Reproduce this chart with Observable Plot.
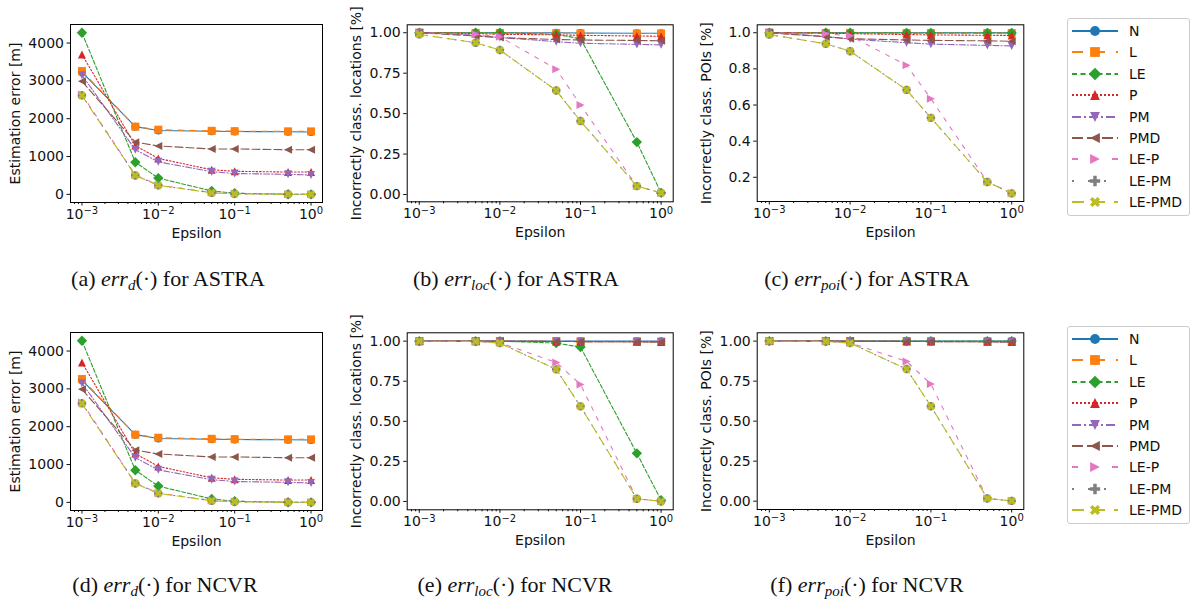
<!DOCTYPE html>
<html>
<head>
<meta charset="utf-8">
<script src="https://cdn.jsdelivr.net/npm/d3@7"></script>
<script src="https://cdn.jsdelivr.net/npm/@observablehq/plot@0.6"></script>
<style>
  html, body { margin: 0; padding: 0; background: white; }
  #root { position: relative; width: 1192px; height: 601px; overflow: hidden; background: white; }
  .pane { position: absolute; }
  .cap { position: absolute; width: 400px; text-align: center; font-family: "Liberation Serif", "DejaVu Serif", serif; font-size: 22px; line-height: 22px; color: #111; white-space: nowrap; }
  .cap sub { font-size: 15px; vertical-align: -4px; line-height: 0; }
  .legend { position: absolute; width: 121px; height: 196px; border: 1px solid #cccccc; border-radius: 3px; background: white; font-family: "DejaVu Sans", sans-serif; font-size: 14px; color: #111; }
  .legend .row { position: absolute; left: 0; width: 121px; height: 20px; }
  .legend .row svg { position: absolute; left: 4px; top: 0; }
  .legend .row span { position: absolute; left: 61px; top: 1px; line-height: 18px; white-space: nowrap; }
</style>
</head>
<body>
<div id="root"></div>
<script>
// ---------------- data ----------------
const series = ["N", "L", "LE", "P", "PM", "PMD", "LE-P", "LE-PM", "LE-PMD"];
const epsilon = [0.001, 0.005, 0.01, 0.05, 0.1, 0.5, 1];

// (a) err_d for ASTRA  [m]  (rows follow `series`)
const errD_ASTRA = [
  [3230, 1790, 1690, 1670, 1660, 1655, 1650],
  [3260, 1790, 1710, 1680, 1670, 1665, 1665],
  [4270, 850, 430, 90, 30, 5, 0],
  [3700, 1290, 950, 650, 610, 590, 590],
  [3150, 1180, 860, 600, 550, 530, 510],
  [2990, 1380, 1280, 1200, 1200, 1180, 1180],
  [2640, 510, 250, 50, 20, 5, 0],
  [2620, 500, 240, 40, 15, 3, 0],
  [2610, 500, 240, 40, 15, 3, 0]
];
// (b) err_loc for ASTRA
const errLoc_ASTRA = [
  [1.0, 1.0, 1.0, 1.0, 0.998, 0.997, 0.997],
  [1.0, 0.999, 0.998, 0.997, 0.996, 0.995, 0.995],
  [1.0, 1.0, 1.0, 0.99, 0.963, 0.324, 0.01],
  [1.0, 0.995, 0.99, 0.987, 0.984, 0.98, 0.978],
  [1.0, 0.985, 0.97, 0.945, 0.935, 0.928, 0.925],
  [1.0, 0.98, 0.97, 0.958, 0.955, 0.952, 0.95],
  [1.0, 0.99, 0.975, 0.775, 0.553, 0.052, 0.01],
  [0.99, 0.938, 0.893, 0.643, 0.454, 0.052, 0.01],
  [0.99, 0.938, 0.893, 0.643, 0.454, 0.052, 0.01]
];
// (c) err_poi for ASTRA
const errPoi_ASTRA = [
  [1.0, 1.0, 1.0, 1.0, 1.0, 1.0, 1.0],
  [1.0, 0.999, 0.999, 0.998, 0.998, 0.998, 0.998],
  [1.0, 1.0, 1.0, 0.999, 0.999, 0.999, 0.999],
  [1.0, 0.998, 0.995, 0.99, 0.988, 0.986, 0.985],
  [1.0, 0.98, 0.965, 0.945, 0.937, 0.93, 0.927],
  [1.0, 0.977, 0.967, 0.96, 0.958, 0.955, 0.953],
  [1.0, 0.995, 0.983, 0.82, 0.635, 0.175, 0.112],
  [0.99, 0.939, 0.898, 0.684, 0.529, 0.174, 0.111],
  [0.99, 0.939, 0.898, 0.684, 0.529, 0.174, 0.111]
];
// (d) err_d for NCVR  [m]
const errD_NCVR = [
  [3230, 1790, 1690, 1670, 1660, 1655, 1650],
  [3260, 1790, 1710, 1680, 1670, 1665, 1665],
  [4270, 850, 430, 90, 30, 5, 0],
  [3700, 1290, 950, 650, 610, 590, 590],
  [3150, 1180, 860, 600, 550, 530, 510],
  [2990, 1380, 1280, 1200, 1200, 1180, 1180],
  [2640, 510, 250, 50, 20, 5, 0],
  [2620, 500, 240, 40, 15, 3, 0],
  [2610, 500, 240, 40, 15, 3, 0]
];
// (e) err_loc for NCVR
const errLoc_NCVR = [
  [1.0, 1.0, 1.0, 1.0, 1.0, 1.0, 1.0],
  [1.0, 1.0, 1.0, 0.998, 0.997, 0.996, 0.995],
  [1.0, 1.0, 1.0, 0.988, 0.963, 0.30, 0.008],
  [1.0, 1.0, 0.999, 0.998, 0.997, 0.996, 0.995],
  [1.0, 1.0, 1.0, 0.999, 0.998, 0.997, 0.996],
  [1.0, 1.0, 0.999, 0.998, 0.997, 0.996, 0.995],
  [1.0, 0.998, 0.99, 0.867, 0.73, 0.017, 0.002],
  [1.0, 0.998, 0.988, 0.824, 0.593, 0.017, 0.0],
  [1.0, 0.998, 0.988, 0.824, 0.593, 0.017, 0.0]
];
// (f) err_poi for NCVR
const errPoi_NCVR = [
  [1.0, 1.0, 1.0, 1.0, 1.0, 1.0, 1.0],
  [1.0, 1.0, 1.0, 0.999, 0.998, 0.997, 0.996],
  [1.0, 1.0, 1.0, 1.0, 1.0, 1.0, 1.0],
  [1.0, 1.0, 0.999, 0.998, 0.997, 0.996, 0.995],
  [1.0, 1.0, 1.0, 0.999, 0.998, 0.997, 0.996],
  [1.0, 1.0, 0.999, 0.998, 0.997, 0.996, 0.995],
  [1.0, 0.998, 0.99, 0.873, 0.732, 0.017, 0.002],
  [1.0, 0.998, 0.988, 0.826, 0.593, 0.017, 0.002],
  [1.0, 0.998, 0.988, 0.826, 0.593, 0.017, 0.002]
];

const xMajorTicks = [0.001, 0.01, 0.1, 1];
const xMajorExponents = ["\u22123", "\u22122", "\u22121", "0"];
const xMinorTicks = [0.0008, 0.0009, 0.002, 0.003, 0.004, 0.005, 0.006, 0.007, 0.008, 0.009,
  0.02, 0.03, 0.04, 0.05, 0.06, 0.07, 0.08, 0.09, 0.2, 0.3, 0.4, 0.5, 0.6, 0.7, 0.8, 0.9];
const ticksErrD = [0, 1000, 2000, 3000, 4000];
const ticksQuarter = [0, 0.25, 0.5, 0.75, 1.0];
const ticksTenth = [0.2, 0.4, 0.6, 0.8, 1.0];

// ---------------- styles ----------------
const colors = ["#1f77b4", "#ff7f0e", "#2ca02c", "#d62728", "#9467bd", "#8c564b", "#e377c2", "#7f7f7f", "#bcbd22"];
const dashPlot = [null, "6,6", "4,2", "1.5,2", "6,2,1.2,2", "8,3", "4,7", "1.2,6", "8,6"];
const dashLegend = [null, "11,11", "5,3.5", "2,2", "9,3,2,3", "11,4", "6,14", "2,14", "12,9"];

function mk(fn) { return { draw(ctx, size) { fn(ctx, Math.sqrt(size / Math.PI)); } }; }
function poly(ctx, pts) { ctx.moveTo(pts[0][0], pts[0][1]); for (let i = 1; i < pts.length; i++) ctx.lineTo(pts[i][0], pts[i][1]); ctx.closePath(); }
function plusPts(r) { const a = r / 3; return [[-a,-r],[a,-r],[a,-a],[r,-a],[r,a],[a,a],[a,r],[-a,r],[-a,a],[-r,a],[-r,-a],[-a,-a]]; }
const symbols = [
  mk((c, r) => { c.moveTo(r, 0); c.arc(0, 0, r, 0, 2 * Math.PI); c.closePath(); }),
  mk((c, r) => poly(c, [[-r,-r],[r,-r],[r,r],[-r,r]])),
  mk((c, r) => { const d = r * 1.3; poly(c, [[0,-d],[d,0],[0,d],[-d,0]]); }),
  mk((c, r) => poly(c, [[0,-r],[r,r],[-r,r]])),
  mk((c, r) => poly(c, [[0,r],[r,-r],[-r,-r]])),
  mk((c, r) => poly(c, [[-r,0],[r,-r],[r,r]])),
  mk((c, r) => poly(c, [[r,0],[-r,-r],[-r,r]])),
  mk((c, r) => poly(c, plusPts(r * 1.05))),
  mk((c, r) => poly(c, plusPts(r * 1.1).map(([x, y]) => [(x - y) / Math.SQRT2, (x + y) / Math.SQRT2])))
];

// ---------------- panels ----------------
const root = document.getElementById("root");

function panel(o) {
  const rows = [];
  series.forEach((s, si) => epsilon.forEach((e, i) => rows.push({ s, si, e, v: o.values[si][i] })));
  const marks = [];
  series.forEach((s, si) => {
    const d = rows.filter(r => r.si === si);
    marks.push(Plot.line(d, { x: "e", y: "v", stroke: colors[si], strokeWidth: 1.1, strokeDasharray: dashPlot[si] }));
    marks.push(Plot.dot(d, { x: "e", y: "v", symbol: symbols[si], r: 4, fill: colors[si], stroke: "none" }));
  });
  marks.push(Plot.axisX({ ticks: xMinorTicks, tickFormat: () => "", tickSize: 2, label: null }));
  marks.push(Plot.axisX({ ticks: xMajorTicks, tickFormat: (d) => "10^" + xMajorExponents[xMajorTicks.indexOf(d)], tickSize: 3.5, tickPadding: 3,
    label: "Epsilon", labelAnchor: "center", labelArrow: "none", labelOffset: 35 }));
  marks.push(Plot.axisY({ ticks: o.yTicks, tickFormat: o.yFormat, tickSize: 3.5, tickPadding: 3,
    label: o.yLabel, labelAnchor: "center", labelArrow: "none", labelOffset: o.labelOffset }));
  marks.push(Plot.frame({ stroke: "black", strokeWidth: 1 }));
  const chart = Plot.plot({
    width: o.width, height: 245,
    marginLeft: o.ml, marginRight: o.width - o.frameRight, marginTop: o.mt, marginBottom: 245 - o.frameBottom,
    x: { type: "log", domain: [Math.pow(10, -3.15), Math.pow(10, 0.15)] },
    y: { domain: o.yDomain },
    style: { fontFamily: "DejaVu Sans, sans-serif", fontSize: "14px", background: "transparent", overflow: "visible", color: "#111" },
    marks
  });
  const sel = d3.select(chart);
  sel.selectAll("text").style("font-family", "'DejaVu Sans', sans-serif", "important").style("font-size", "14px", "important");
  // render "10^e" tick labels as 10 with a raised exponent
  sel.selectAll("text").each(function () {
    const t = this.textContent;
    if (t.startsWith("10^")) {
      const exp = t.slice(3);
      const el = d3.select(this);
      const tgt = el.select("tspan").empty() ? el : el.select("tspan");
      tgt.text("10");
      tgt.append("tspan").attr("dy", "-0.45em").style("font-size", "10px", "important").text(exp);
    }
  });
  const div = document.createElement("div");
  div.className = "pane";
  div.style.left = o.left + "px";
  div.style.top = o.top + "px";
  div.style.width = o.width + "px";
  div.appendChild(chart);
  root.appendChild(div);
}

const fmt0 = d => String(d);
const fmt2 = d => d.toFixed(2);
const fmt1 = d => d.toFixed(1);

[0, 308].forEach((dy, row) => {
  const vals = row === 0 ? [errD_ASTRA, errLoc_ASTRA, errPoi_ASTRA] : [errD_NCVR, errLoc_NCVR, errPoi_NCVR];
  panel({ values: vals[0], left: 0, top: dy, width: 335, ml: 70, frameRight: 322, mt: 24, frameBottom: 202,
    yDomain: [-215, 4490], yTicks: ticksErrD, yFormat: fmt0, yLabel: "Estimation error [m]", labelOffset: 60 });
  panel({ values: vals[1], left: 340, top: dy, width: 345, ml: 66.7, frameRight: 332.7, mt: 24.3, frameBottom: 201.3,
    yDomain: row === 0 ? [-0.045, 1.049] : [-0.052, 1.052], yTicks: ticksQuarter, yFormat: fmt2,
    yLabel: "Incorrectly class. locations [%]", labelOffset: 56 });
  panel({ values: vals[2], left: 690, top: dy, width: 345, ml: 66.7, frameRight: 333.3, mt: 24.3, frameBottom: 201,
    yDomain: row === 0 ? [0.066, 1.044] : [-0.052, 1.052], yTicks: row === 0 ? ticksTenth : ticksQuarter, yFormat: row === 0 ? fmt1 : fmt2,
    yLabel: "Incorrectly class. POIs [%]", labelOffset: 56 });
});

// ---------------- legends ----------------
function legend(top) {
  const box = document.createElement("div");
  box.className = "legend";
  box.style.left = "1067px";
  box.style.top = top + "px";
  series.forEach((s, si) => {
    const row = document.createElement("div");
    row.className = "row";
    row.style.top = (2 + si * 21.4) + "px";
    const svg = d3.create("svg").attr("width", 50).attr("height", 20);
    svg.append("line").attr("x1", 0).attr("x2", 46).attr("y1", 10).attr("y2", 10)
      .attr("stroke", colors[si]).attr("stroke-width", 2).attr("stroke-dasharray", dashLegend[si]);
    const p = d3.path();
    symbols[si].draw(p, 4.9 * 4.9 * Math.PI);
    svg.append("path").attr("d", p.toString()).attr("transform", "translate(23,10)").attr("fill", colors[si]);
    row.appendChild(svg.node());
    const t = document.createElement("span");
    t.textContent = s;
    row.appendChild(t);
    box.appendChild(row);
  });
  root.appendChild(box);
}
legend(18);
legend(326);

// ---------------- captions ----------------
const captions = [
  ["(a) ", "d", " for ASTRA", 168, 280], ["(b) ", "loc", " for ASTRA", 516, 280], ["(c) ", "poi", " for ASTRA", 867, 280],
  ["(d) ", "d", " for NCVR", 165, 586], ["(e) ", "loc", " for NCVR", 515, 586], ["(f) ", "poi", " for NCVR", 867, 586]
];
captions.forEach(([pre, sub, post, cx, cy]) => {
  const c = document.createElement("div");
  c.className = "cap";
  c.style.left = (cx - 200) + "px";
  c.style.top = (cy - 12) + "px";
  c.innerHTML = pre + "<i>err</i><sub><i>" + sub + "</i></sub>(\u00B7)" + post;
  root.appendChild(c);
});
</script>
</body>
</html>
